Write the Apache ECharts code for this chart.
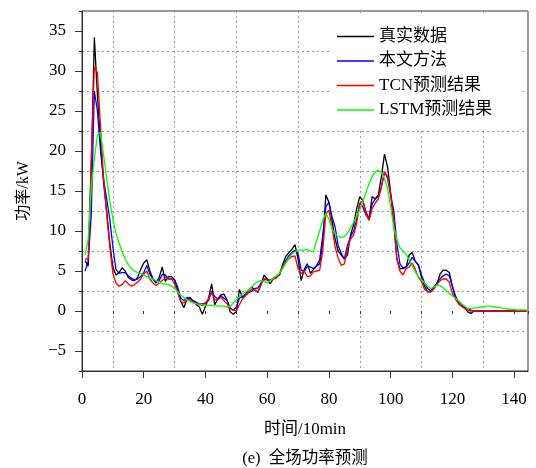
<!DOCTYPE html>
<html><head><meta charset="utf-8">
<script src="https://cdn.jsdelivr.net/npm/echarts@6/dist/echarts.min.js"></script>
<style>html,body{margin:0;padding:0;background:#fff}#c{width:536px;height:468px}</style>
</head><body><div id="c"></div>
<script>
// time index 1..144 (10-min steps)
const realData = [6.3,5.6,18,34.2,27,21,16,12.5,8.5,5.5,
4.5,4.8,5.4,5.0,4.2,3.9,3.8,4.2,5.2,6.0,
6.4,5.0,4.0,3.5,4.2,5.5,3.7,4.3,4.3,3.9,
2.5,1.2,0.4,1.5,1.7,1.2,0.8,0.5,-0.4,0.6,
1.6,3.4,0.8,1.5,2.0,2.1,1.4,-0.1,-0.4,-0.1,
2.7,1.7,2.1,2.6,3.0,2.6,2.3,3.3,4.5,4.0,
3.4,4.1,4.3,4.5,5.8,6.8,7.3,7.7,8.3,6.5,
3.8,5.2,5.9,4.7,5.2,5.6,5.9,8.5,14.5,13.6,
11.3,9.0,7.5,7.0,6.5,7.0,9.5,10.8,12.8,14.3,
13.8,12.4,11.5,14.3,14.0,14.5,16.8,19.6,18.0,14.8,
11.0,6.5,5.3,5.3,5.5,7.0,7.3,6.2,5.7,4.2,
3.1,2.4,2.4,2.8,3.4,4.6,5.1,5.1,4.8,3.1,
1.6,0.9,0.6,0.4,-0.1,-0.3,0,0,0,0,
0,0,0,0,0,0,0,0,0,0,
0,0,0,0];
const oursData = [5.0,6.2,12,27.5,25,20,16.5,14,11.5,8,
5.2,4.7,4.8,4.8,4.4,4.1,3.9,4.0,4.3,4.8,
5.7,4.6,4.0,3.6,3.8,4.6,4.5,4.0,4.0,3.9,
3.0,1.6,1.3,1.7,1.5,1.3,1.1,0.9,0.9,1.0,
1.3,2.5,1.8,1.5,1.9,1.6,1.3,0.4,0.1,0.5,
1.6,1.8,2.0,2.3,2.5,2.8,2.9,3.5,3.9,4.0,
3.8,4.1,4.3,4.6,5.5,6.3,6.9,7.3,7.6,7.2,
5.1,4.9,5.6,5.5,5.3,5.7,6.4,9.5,13.0,13.6,
11.8,10.5,8.2,7.2,6.5,8.2,9.3,10.0,11.5,13.5,
13.0,12.0,11.5,13.4,14.0,14.3,15.5,17.4,16.6,14.5,
12.6,8.5,5.9,5.4,5.5,6.0,6.7,6.2,5.8,4.5,
3.5,2.8,2.5,3.0,3.5,4.0,4.4,4.6,4.4,3.1,
1.9,1.1,0.8,0.5,0.3,0.1,0,0,0,0,
0,0,0,0,0,0,0,0,0,0,
0,0,0,0];
const tcnData = [6.5,6.5,19,30.5,29.8,23,16.5,12,8,4.7,
3.5,3.1,3.3,3.8,3.4,3.1,3.3,3.6,4.0,4.6,
5.0,4.0,3.5,3.2,3.5,3.8,4.2,4.1,4.0,3.4,
2.3,1.2,1.0,1.4,1.4,1.1,1.0,0.8,0.7,1.0,
1.5,2.3,1.4,1.4,1.7,1.3,0.9,0.3,0.1,0.05,
0.8,1.5,1.9,2.4,2.7,2.6,2.4,3.3,4.1,3.8,
3.9,4.0,4.1,4.7,5.5,6.1,6.5,6.8,6.9,5.3,
4.7,5.0,4.3,4.4,4.9,5.0,5.1,7.5,12.2,12.6,
10.5,8.0,6.6,5.7,5.9,7.8,9.0,9.5,11.0,13.4,
13.8,12.2,11.3,12.8,13.5,14.0,15.5,17.4,16.8,14.5,
11.5,6.5,5.0,4.5,5.3,5.5,6.0,5.2,4.2,3.7,
2.7,2.4,2.4,2.8,3.3,3.8,4.0,4.0,3.6,2.2,
1.5,1.0,0.6,0.3,0.1,0,0,0,0,0,
0,0,0,0,0,0,0,0,0,0,
0,0,0,0];
const lstmData = [7,9,15.5,19,22,22.3,19.5,16.5,13.8,11.5,
9.7,8.5,7.4,6.5,5.8,5.3,5.0,4.8,4.7,4.5,
4.3,4.1,4.0,3.8,3.6,3.4,3.4,3.3,3.1,2.8,
2.4,2.0,1.7,1.4,1.2,1.0,0.9,0.85,0.8,0.7,
0.7,0.7,0.65,0.6,0.6,0.6,0.5,0.6,1.0,1.4,
1.8,2.1,2.4,2.6,3.0,3.4,3.7,3.8,3.7,3.5,
3.8,4.1,4.4,4.7,5.3,6.0,6.6,7.1,7.4,7.6,
7.6,7.6,7.7,7.5,7.4,8.8,10.0,11.3,12.2,11.5,
10.3,9.6,9.3,9.2,9.3,9.7,10.4,11.1,11.9,12.6,
13.7,14.8,15.9,16.8,17.4,17.6,17.3,16.6,15.3,13.0,
10.5,8.9,7.9,7.5,7.1,6.4,5.6,4.9,4.3,3.9,
3.5,3.1,2.8,3.0,3.2,3.2,2.9,2.5,2.2,1.9,
1.6,1.3,0.9,0.6,0.3,0.3,0.4,0.4,0.5,0.5,
0.6,0.6,0.55,0.5,0.45,0.35,0.3,0.25,0.2,0.2,
0.15,0.15,0.15,0.15];
const seriesNames = ['真实数据','本文方法','TCN预测结果','LSTM预测结果'];
const xTickValues = [0,20,40,60,80,100,120,140];
const yTickValues = [-5,0,5,10,15,20,25,30,35];

const seriesColors = ['#000000','#0000ff','#ff0000','#00ff00'];
const FONT = '"Liberation Serif", "Times New Roman", "Noto Sans CJK SC", serif';
const toPairs = arr => arr.map((v, i) => [i + 1, v]);
const allData = [realData, oursData, tcnData, lstmData];

const chart = echarts.init(document.getElementById('c'), null, {renderer: 'canvas'});
chart.setOption({
  animation: false,
  backgroundColor: '#fff',
  grid: {left: 82, right: 8, top: 11, bottom: 97, show: true, borderColor: '#333', borderWidth: 1, backgroundColor: 'transparent'},
  xAxis: [
    {type: 'value', min: 0, max: 144.5, position: 'bottom',
     axisLine: {show: true, onZero: false, lineStyle: {color: '#333', width: 1}},
     axisTick: {show: true, customValues: xTickValues, length: 7, lineStyle: {color: '#333'}},
     axisLabel: {customValues: xTickValues, margin: 20, fontSize: 17, color: '#000', fontFamily: FONT},
     splitLine: {show: false},
     name: '时间/10min', nameLocation: 'middle', nameGap: 50,
     nameTextStyle: {fontSize: 17, color: '#000', fontFamily: FONT}},
    {type: 'value', min: 0, max: 144.5, interval: 10, position: 'bottom',
     axisLine: {show: false}, axisTick: {show: true, length: 3, lineStyle: {color: '#333'}},
     axisLabel: {show: false},
     splitLine: {show: true, lineStyle: {color: ['rgba(0,0,0,0)', '#999'], type: [2, 3], width: 1}}}
  ],
  yAxis: [
    {type: 'value', min: -7.5, max: 37.5, position: 'left',
     axisLine: {show: true, onZero: false, lineStyle: {color: '#333', width: 1}},
     axisTick: {show: true, customValues: yTickValues, length: 7, lineStyle: {color: '#333'}},
     axisLabel: {customValues: yTickValues, margin: 16, fontSize: 17, color: '#000', fontFamily: FONT,
                 formatter: v => (v < 0 ? '\u2212' + Math.abs(v) : String(v))},
     splitLine: {show: false},
     name: '功率/kW', nameLocation: 'middle', nameGap: 50,
     nameTextStyle: {fontSize: 16, color: '#000', fontFamily: FONT}},
    {type: 'value', min: -7.5, max: 37.5, interval: 5, position: 'left',
     axisLine: {show: false}, axisTick: {show: true, length: 3, lineStyle: {color: '#333'}},
     axisLabel: {show: false},
     splitLine: {show: true, lineStyle: {color: '#999', type: [2, 3], width: 1}}}
  ],
  legend: {orient: 'vertical', left: 332, top: 16, itemWidth: 37, itemHeight: 1.5, itemGap: 7.5,
           icon: 'rect', padding: [12, 30, 10, 5], backgroundColor: '#fff',
           textStyle: {fontSize: 17, fontFamily: FONT, color: '#000'}, data: seriesNames},
  graphic: [{type: 'text', x: 305, y: 459, style: {text: '(e)  全场功率预测', align: 'center', verticalAlign: 'middle',
             fontSize: 16.5, fontFamily: FONT, fill: '#000'}}],
  series: seriesNames.map((name, k) => ({
    name, type: 'line', xAxisIndex: 0, yAxisIndex: 0, symbol: 'none', clip: true,
    lineStyle: {width: 1.3, color: seriesColors[k]}, itemStyle: {color: seriesColors[k]},
    data: toPairs(allData[k])
  }))
});
</script></body></html>
